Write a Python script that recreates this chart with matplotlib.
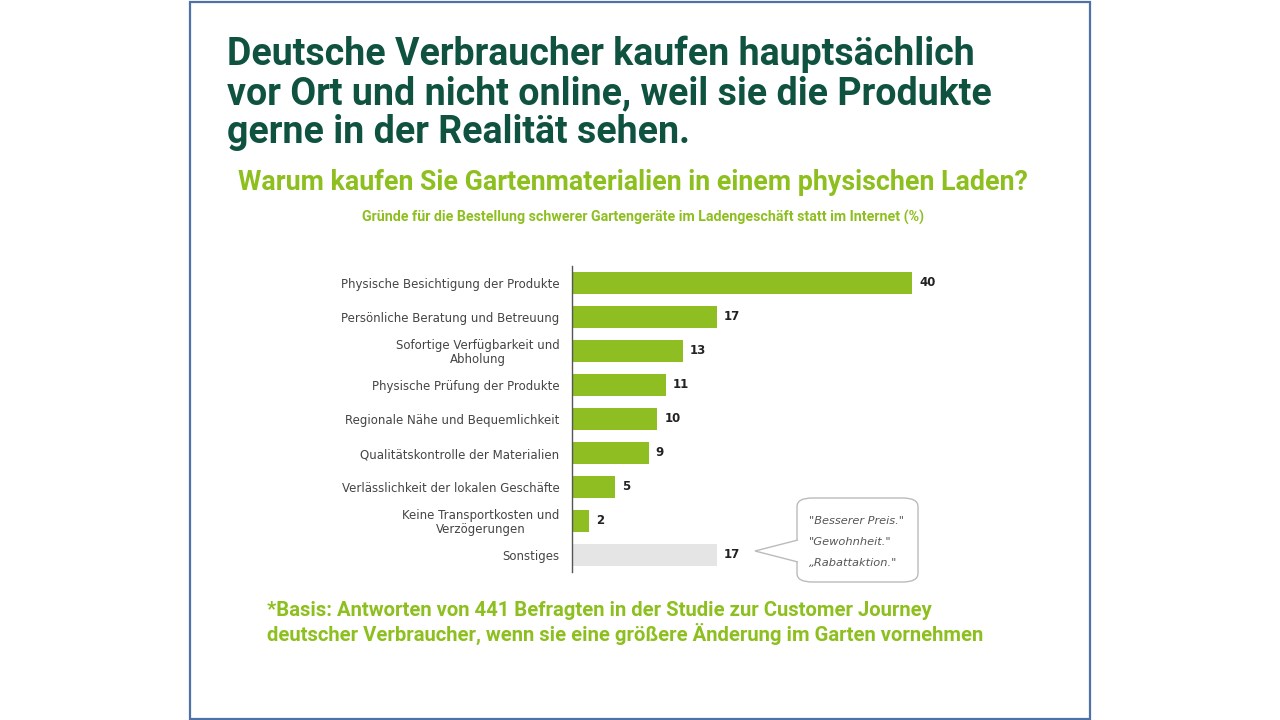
import matplotlib.pyplot as plt
from matplotlib.patches import Rectangle, FancyBboxPatch, Polygon

# -----------------------------------
# Data
# -----------------------------------

categories = [
    "Physische Besichtigung der Produkte",
    "Persönliche Beratung und Betreuung",
    "Sofortige Verfügbarkeit und\nAbholung",
    "Physische Prüfung der Produkte",
    "Regionale Nähe und Bequemlichkeit",
    "Qualitätskontrolle der Materialien",
    "Verlässlichkeit der lokalen Geschäfte",
    "Keine Transportkosten und\nVerzögerungen",
    "Sonstiges",
]
values = [40, 17, 13, 11, 10, 9, 5, 2, 17]
quotes = ["\"Besserer Preis.\"", "\"Gewohnheit.\"", "„Rabattaktion.\""]

title = ("Deutsche Verbraucher kaufen hauptsächlich\n"
         "vor Ort und nicht online, weil sie die Produkte\n"
         "gerne in der Realität sehen.")
subtitle = "Warum kaufen Sie Gartenmaterialien in einem physischen Laden?"
chart_title = "Gründe für die Bestellung schwerer Gartengeräte im Ladengeschäft statt im Internet (%)"
footnote = ("*Basis: Antworten von 441 Befragten in der Studie zur Customer Journey\n"
            "deutscher Verbraucher, wenn sie eine größere Änderung im Garten vornehmen")

DARK_GREEN = "#0f5240"
LIGHT_GREEN = "#8dbf1f"
BAR_GREEN = "#8fbe22"
GREY_BAR = "#e5e5e5"

W, H = 1280, 720
fig = plt.figure(figsize=(12.8, 7.2), dpi=100)
fig.patch.set_facecolor("white")

# frame
fig.patches.append(Rectangle((190 / W, 1 / H), 900 / W, 717 / H,
                             transform=fig.transFigure, fill=False,
                             edgecolor="#4f72a6", linewidth=1.6))

# -----------------------------------
# Texts
# -----------------------------------

fig.text(227 / W, 1 - 36 / H, title, ha="left", va="top",
         fontsize=27, fontweight="bold", color=DARK_GREEN,
         family="Roboto", linespacing=1.06)
fig.text(633 / W, 1 - 183 / H, subtitle, ha="center", va="center",
         fontsize=19.3, fontweight="bold", color=LIGHT_GREEN, family="Roboto")
fig.text(643 / W, 1 - 217 / H, chart_title, ha="center", va="center",
         fontsize=10.2, fontweight="bold", color=LIGHT_GREEN, family="Roboto")
fig.text(267 / W, 1 - 601 / H, footnote, ha="left", va="top",
         fontsize=14.6, fontweight="bold", color=LIGHT_GREEN,
         family="Roboto", linespacing=1.15)

# -----------------------------------
# Bar chart
# -----------------------------------

ax = fig.add_axes([572 / W, (H - 572) / H, 428 / W, 306 / H])
y = list(range(len(categories)))
colors = [BAR_GREEN] * (len(values) - 1) + [GREY_BAR]
ax.barh(y, values, height=0.66, color=colors)
ax.set_ylim(len(categories) - 0.5, -0.5)
ax.set_xlim(0, 50.35)

for yi, v in zip(y, values):
    ax.text(v + 0.85, yi, str(v), va="center", ha="left",
            fontsize=8.5, fontweight="bold", color="#222222", family="DejaVu Sans")

ax.set_yticks(y)
ax.set_yticklabels(categories, fontsize=8.5, color="#444444", family="DejaVu Sans",
                   linespacing=1.1, multialignment="center")
ax.tick_params(axis="y", length=0, pad=9)
ax.set_xticks([])
for side in ["top", "right", "bottom"]:
    ax.spines[side].set_visible(False)
ax.spines["left"].set_color("#555555")
ax.spines["left"].set_linewidth(1.0)
ax.set_facecolor("none")

# speech bubble
bubble = FancyBboxPatch((797 / W, (H - 582) / H), 121 / W, 84 / H,
                        boxstyle="round,pad=0,rounding_size=0.012",
                        transform=fig.transFigure, facecolor="white",
                        edgecolor="#bbbbbb", linewidth=1.0)
fig.patches.append(bubble)
pointer = Polygon([(798 / W, (H - 540) / H), (755 / W, (H - 551) / H),
                   (798 / W, (H - 562) / H)], closed=False,
                  transform=fig.transFigure, facecolor="white",
                  edgecolor="#bbbbbb", linewidth=1.0)
fig.patches.append(pointer)
for i, q in enumerate(quotes):
    fig.text(809 / W, 1 - (521 + i * 21) / H, q, ha="left", va="center",
             fontsize=8.2, style="italic", color="#555555", family="DejaVu Sans")

plt.savefig("out.png", dpi=100)
